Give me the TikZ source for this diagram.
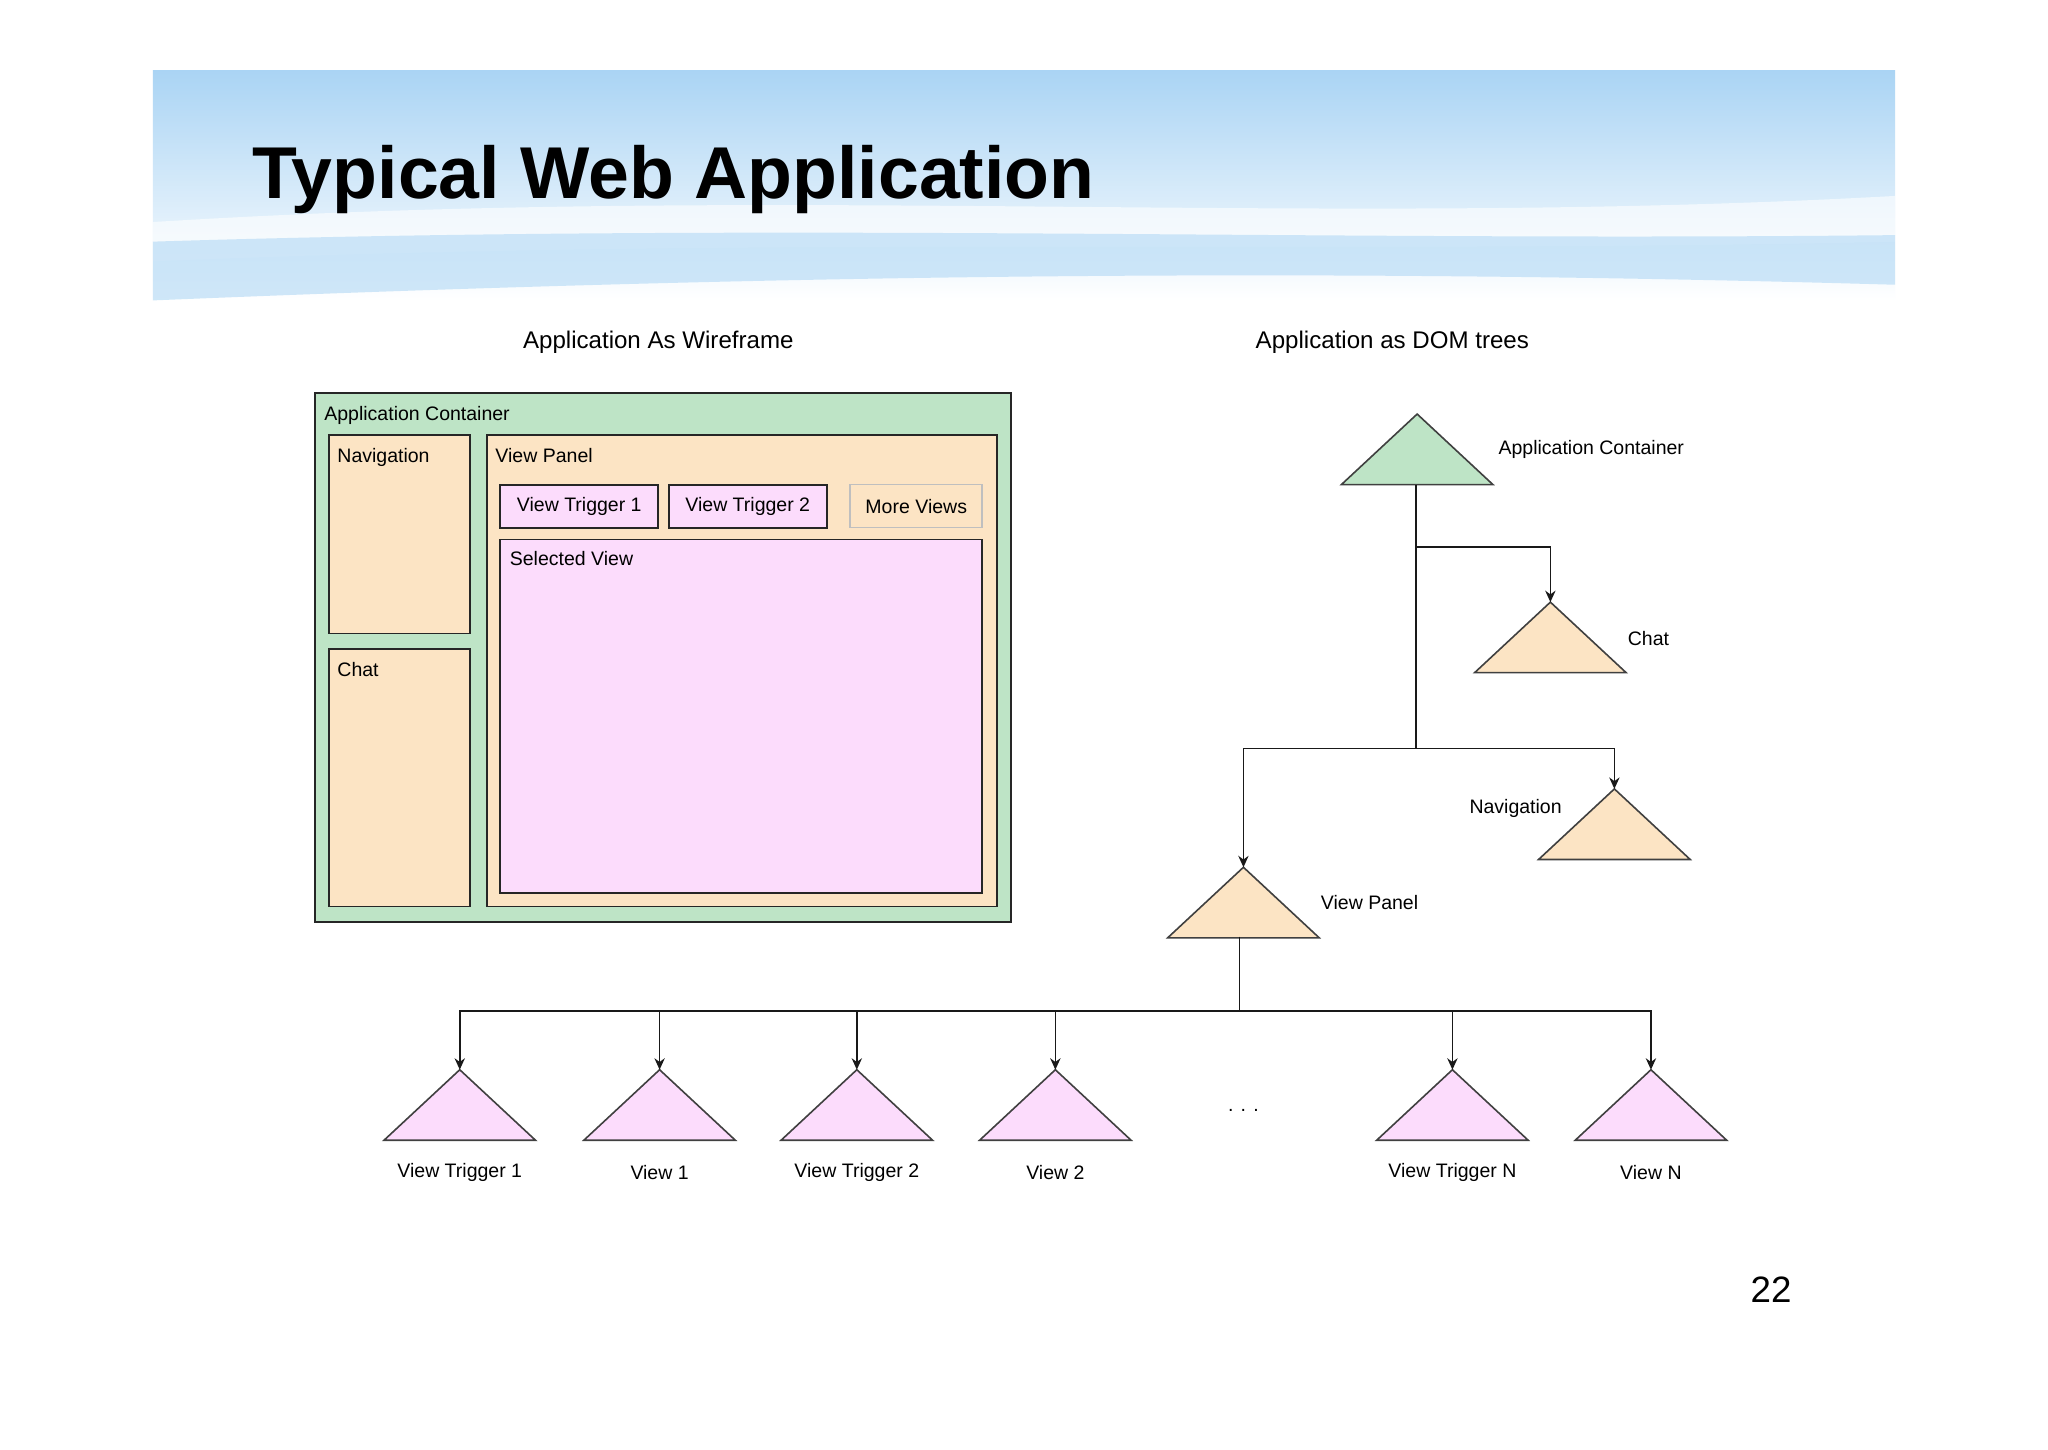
\documentclass[tikz,border=0pt]{standalone}
\usepackage{fontspec}
\setmainfont{Liberation Sans}
\usetikzlibrary{arrows.meta}
\begin{document}
\begin{tikzpicture}[x=0.02cm,y=-0.02cm,
  lab/.style={font=\fontsize{8.5}{10}\selectfont, inner sep=0pt},
  sub/.style={font=\fontsize{10.5}{12}\selectfont, inner sep=0pt},
  box/.style={draw=black!85, line width=0.8pt},
  tri/.style={draw=black!75, line width=0.7pt},
  arr/.style={-{Stealth[length=5pt,width=4.5pt]}, line width=0.7pt, black!90},
  ln/.style={line width=0.7pt, black!90}]
\definecolor{gr}{RGB}{190,228,198}
\definecolor{pe}{RGB}{252,228,196}
\definecolor{pk}{RGB}{252,220,252}
\definecolor{bl}{RGB}{170,212,244}
\useasboundingbox (0,0) rectangle (1568,1110);
\fill[white] (0,0) rectangle (1568,1110);
% banner
\shade[top color=bl, bottom color=white] (117,54) rectangle (1451,230);
\fill[white, opacity=0.6] (117,170) .. controls (600,140) and (1000,175) .. (1451,150) -- (1451,185) .. controls (1000,195) and (600,180) .. (117,200) -- cycle;
\fill[bl!80, opacity=0.7] (117,185) .. controls (600,170) and (1000,185) .. (1451,180) -- (1451,218) .. controls (1000,205) and (600,210) .. (117,230) -- cycle;
\node[anchor=base west, inner sep=0pt, font=\fontsize{32}{36}\selectfont\bfseries] (title) at (193,152) {Typical Web Application};
\node[sub] (s1) at (504,262) {Application As Wireframe};
\node[sub] (s2) at (1066,262) {Application as DOM trees};
% wireframe
\draw[box, fill=gr] (241,301) rectangle (774,706);
\node[lab, anchor=north west] (ac) at (248,311) {Application Container};
\draw[box, fill=pe] (252,333) rectangle (360,485);
\node[lab, anchor=north west] (nv) at (258,343) {Navigation};
\draw[box, fill=pe] (252,497) rectangle (360,694);
\node[lab, anchor=north west] (ch) at (258,507) {Chat};
\draw[box, fill=pe] (373,333) rectangle (763,694);
\node[lab, anchor=north west] (vp) at (379,343) {View Panel};
\draw[box, fill=pk] (383,371) rectangle (504,404);
\node[lab] (vt1) at (443.5,387.5) {View Trigger 1};
\draw[box, fill=pk] (512,371) rectangle (633,404);
\node[lab] (vt2) at (572.5,387.5) {View Trigger 2};
\draw[line width=0.7pt, draw=black!25, fill=pe] (651,371) rectangle (752,404);
\node[lab] (mv) at (701.5,387.5) {More Views};
\draw[box, fill=pk] (383,413) rectangle (752,684);
\node[lab, anchor=north west] (sv) at (390,422) {Selected View};
% tree triangles
\newcommand{\tritop}[4]{\coordinate (#1) at (#2,#3); \draw[tri, fill=#4] (#2,#3) -- ({#2-58},{#3+54}) -- ({#2+58},{#3+54}) -- cycle;}
\tritop{tA}{1085}{317}{gr}
\tritop{tC}{1187}{461}{pe}
\tritop{tN}{1236}{604}{pe}
\tritop{tV}{952}{664}{pe}
\tritop{t1}{352}{819}{pk}
\tritop{t2}{505}{819}{pk}
\tritop{t3}{656}{819}{pk}
\tritop{t4}{808}{819}{pk}
\tritop{t5}{1112}{819}{pk}
\tritop{t6}{1264}{819}{pk}
\node[lab, anchor=west] (lA) at (1147,344) {Application Container};
\node[lab, anchor=west] (lC) at (1246,489) {Chat};
\node[lab, anchor=east] (lN) at (1196,619) {Navigation};
\node[lab, anchor=west] (lV) at (1011,691) {View Panel};
\node[lab] (l1) at (352,898) {View Trigger 1};
\node[lab] (l2) at (505,898) {View 1};
\node[lab] (l3) at (656,898) {View Trigger 2};
\node[lab] (l4) at (808,898) {View 2};
\node[lab] (l5) at (1112,898) {View Trigger N};
\node[lab] (l6) at (1264,898) {View N};
\node[lab] (dots) at (952,850) {. . .};
% connectors
\coordinate (aB) at (1084,371);
\coordinate (j1) at (1084,419);
\coordinate (j2) at (1084,573);
\coordinate (vB) at (949,717);
\coordinate (j3) at (949,774);
\draw[ln] (aB) -- (j2);
\draw[arr] (j1) -| (tC);
\draw[arr] (j2) -| (tN);
\draw[arr] (j2) -| (tV);
\draw[ln] (vB) -- (j3);
\foreach \t in {t1,t2,t3,t4,t5,t6} \draw[arr] (j3) -| (\t);
\node[anchor=base, inner sep=0pt, font=\fontsize{16}{18}\selectfont] (pg) at (1356,997) {22};
\end{tikzpicture}
\end{document}
